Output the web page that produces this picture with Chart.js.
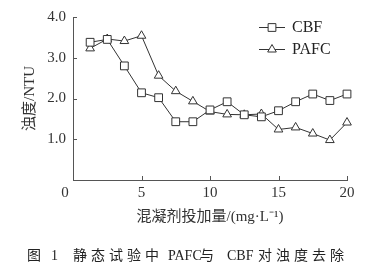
<!DOCTYPE html>
<html>
<head>
<meta charset="utf-8">
<script src="https://cdn.jsdelivr.net/npm/chart.js@4/dist/chart.umd.min.js"></script>
<style>
html, body { margin: 0; padding: 0; background: #fff; }
#wrap { position: relative; width: 379px; height: 269px; }
#cap span { position: absolute; top: 247px; font: 14px "Liberation Serif", "Noto Sans CJK SC", serif; color: #222; white-space: pre; line-height: 18px; }
#cap .cj { letter-spacing: 4px; }
</style>
</head>
<body>
<div id="wrap">
  <canvas id="myChart" width="379" height="269"></canvas>
  <div id="cap"><span style="left:27px" class="cj">图</span><span style="left:51px">1</span><span style="left:73px" class="cj">静态试验中</span><span style="left:168px">PAFC</span><span style="left:200px" class="cj">与</span><span style="left:227px">CBF</span><span style="left:258px" class="cj">对浊度去除</span></div>
</div>
<script>
// dosage (mg/L) and turbidity (NTU)
var dose = [1.25, 2.5, 3.75, 5, 6.25, 7.5, 8.75, 10, 11.25, 12.5, 13.75, 15, 16.25, 17.5, 18.75, 20];
var cbf = [3.38, 3.45, 2.8, 2.14, 2.02, 1.43, 1.43, 1.72, 1.92, 1.6, 1.55, 1.7, 1.92, 2.11, 1.95, 2.11];
var pafc = [3.23, 3.46, 3.41, 3.54, 2.56, 2.18, 1.93, 1.68, 1.61, 1.6, 1.62, 1.24, 1.29, 1.14, 0.98, 1.41];
var xTicks = [0, 5, 10, 15, 20];
var yTicks = [1, 2, 3, 4];

var ink = '#333';
var tickFont = '15px "Liberation Serif", serif';

function pts(vals) {
    return dose.map(function (d, i) { return { x: d, y: vals[i] }; });
}

// inside tick marks, origin label and legend in the upper right
var extras = {
    id: 'extras',
    afterDraw: function (chart) {
        var c = chart.ctx, xs = chart.scales.x, ys = chart.scales.y, area = chart.chartArea;
        c.save();
        c.strokeStyle = '#555';
        c.lineWidth = 1;
        c.beginPath();
        xTicks.forEach(function (v) {
            if (v === 0) return;
            var px = Math.round(xs.getPixelForValue(v)) + 0.5;
            c.moveTo(px, area.bottom);
            c.lineTo(px, area.bottom - 4);
        });
        yTicks.forEach(function (v) {
            var py = Math.round(ys.getPixelForValue(v)) + 0.5;
            c.moveTo(area.left, py);
            c.lineTo(area.left + 4, py);
        });
        c.stroke();

        // the 0 sits left of the origin in the original
        c.fillStyle = ink;
        c.font = tickFont;
        c.textAlign = 'center';
        c.textBaseline = 'middle';
        c.fillText(String(xTicks[0]), xs.getPixelForValue(xTicks[0]) - 8, area.bottom + 13);

        c.textAlign = 'left';
        chart.data.datasets.forEach(function (ds, i) {
            var y = 27 + i * 22;
            c.strokeStyle = ink;
            c.beginPath();
            c.moveTo(259, y + 0.5);
            c.lineTo(285, y + 0.5);
            c.stroke();
            c.fillStyle = '#fff';
            Chart.helpers.drawPoint(c, { pointStyle: ds.pointStyle, radius: ds.pointRadius, borderWidth: 1 }, 272, y + 0.5);
            c.fillStyle = '#222';
            c.font = '16px "Liberation Serif", serif';
            c.fillText(ds.label, 292, y + 1);
        });
        c.restore();
    }
};

var ctx = document.getElementById('myChart').getContext('2d');
Chart.defaults.font.family = '"Liberation Serif", "Noto Sans CJK SC", serif';
Chart.defaults.color = ink;

var chart = new Chart(ctx, {
    type: 'line',
    data: {
        datasets: [{
            label: 'CBF',
            data: pts(cbf),
            borderColor: ink,
            borderWidth: 1,
            backgroundColor: '#fff',
            pointStyle: 'rect',
            pointRadius: 5.5,
            pointBorderWidth: 1,
            pointBackgroundColor: '#fff',
            pointBorderColor: ink,
            clip: false
        }, {
            label: 'PAFC',
            data: pts(pafc),
            borderColor: ink,
            borderWidth: 1,
            backgroundColor: '#fff',
            pointStyle: 'triangle',
            pointRadius: 5,
            pointBorderWidth: 1,
            pointBackgroundColor: '#fff',
            pointBorderColor: ink,
            clip: false
        }]
    },
    options: {
        responsive: false,
        animation: false,
        layout: { padding: { top: 17, right: 32, bottom: 40, left: 0 } },
        plugins: {
            legend: { display: false },
            tooltip: { enabled: false }
        },
        scales: {
            x: {
                type: 'linear',
                min: 0,
                max: 20,
                afterBuildTicks: function (s) { s.ticks = xTicks.map(function (v) { return { value: v }; }); },
                afterFit: function (s) { s.height = 49; },
                grid: { display: false, drawTicks: false, tickLength: 0 },
                border: { display: true, color: '#555' },
                ticks: { font: { size: 15 }, color: ink, padding: 4, maxRotation: 0,
                    callback: function (v) { return v === 0 ? '' : String(v); } },
                title: { display: true, text: '混凝剂投加量/(mg·L⁻¹)', font: { size: 15 }, color: ink, padding: { top: 0, bottom: 3 } }
            },
            y: {
                min: 0,
                max: 4,
                afterBuildTicks: function (s) { s.ticks = yTicks.map(function (v) { return { value: v }; }); },
                afterFit: function (s) { s.width = 73; },
                grid: { display: false, drawTicks: false, tickLength: 0 },
                border: { display: true, color: '#555' },
                ticks: { font: { size: 15 }, color: ink, padding: 7, callback: function (v) { return v.toFixed(1); } },
                title: { display: true, text: '浊度/NTU', font: { size: 15 }, color: ink, padding: { top: 21, bottom: 0 } }
            }
        }
    },
    plugins: [extras]
});
</script>
</body>
</html>
